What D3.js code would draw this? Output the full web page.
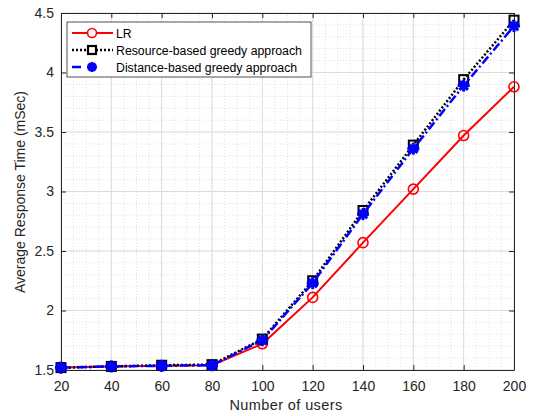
<!DOCTYPE html>
<html>
<head>
<meta charset="utf-8">
<script src="https://cdn.jsdelivr.net/npm/d3@7"></script>
<style>
  body { margin: 0; background: #fff; }
  svg { font-family: "Liberation Sans", Arial, sans-serif; }
</style>
</head>
<body>
<div id="chart"></div>
<script>
let users = [20, 40, 60, 80, 100, 120, 140, 160, 180, 200];
let lrValues = [1.52, 1.53, 1.535, 1.54, 1.72, 2.11, 2.57, 3.02, 3.47, 3.88];
let resourceValues = [1.52, 1.53, 1.54, 1.545, 1.76, 2.25, 2.84, 3.39, 3.94, 4.44];
let distanceValues = [1.52, 1.53, 1.535, 1.54, 1.75, 2.23, 2.81, 3.36, 3.89, 4.39];
let seriesNames = ["LR", "Resource-based greedy approach", "Distance-based greedy approach"];
let yTicks = [1.5, 2, 2.5, 3, 3.5, 4, 4.5];

let w = 533;
let h = 416;
let margin = {left: 61, right: 19, top: 13, bottom: 46};

let svg = d3.select("#chart")
    .append("svg")
    .attr("width", w)
    .attr("height", h);

let x = d3.scaleLinear().domain([20, 200]).range([margin.left, w - margin.right]);
let y = d3.scaleLinear().domain([1.5, 4.5]).range([h - margin.bottom, margin.top]);

// minor grid
let xMinor = d3.range(20, 200.1, 5);
let yMinor = d3.range(1.5, 4.51, 0.1);
svg.append("g").selectAll("line")
    .data(xMinor)
    .enter().append("line")
    .attr("x1", d => x(d)).attr("x2", d => x(d))
    .attr("y1", y(1.5)).attr("y2", y(4.5))
    .attr("stroke", "#d4d4d4").attr("stroke-width", 0.7)
    .attr("stroke-dasharray", "1,2");
svg.append("g").selectAll("line")
    .data(yMinor)
    .enter().append("line")
    .attr("x1", x(20)).attr("x2", x(200))
    .attr("y1", d => y(d)).attr("y2", d => y(d))
    .attr("stroke", "#d4d4d4").attr("stroke-width", 0.7)
    .attr("stroke-dasharray", "1,2");

// major grid
svg.append("g").selectAll("line")
    .data(users)
    .enter().append("line")
    .attr("x1", d => x(d)).attr("x2", d => x(d))
    .attr("y1", y(1.5)).attr("y2", y(4.5))
    .attr("stroke", "#dcdcdc").attr("stroke-width", 1);
svg.append("g").selectAll("line")
    .data(yTicks)
    .enter().append("line")
    .attr("x1", x(20)).attr("x2", x(200))
    .attr("y1", d => y(d)).attr("y2", d => y(d))
    .attr("stroke", "#dcdcdc").attr("stroke-width", 1);

// axes
let xAxis = d3.axisBottom(x).tickValues(users).tickSize(-5).tickPadding(11).tickSizeOuter(0);
let yAxis = d3.axisLeft(y).tickValues(yTicks).tickSize(-5).tickPadding(7).tickSizeOuter(0)
    .tickFormat(d3.format("~g"));
let xTop = d3.axisTop(x).tickValues(users).tickSize(-5).tickFormat("").tickSizeOuter(0);
let yRight = d3.axisRight(y).tickValues(yTicks).tickSize(-5).tickFormat("").tickSizeOuter(0);

function styleAxis(g) {
    g.selectAll("path").attr("stroke", "#262626");
    g.selectAll("line").attr("stroke", "#262626");
    g.selectAll("text").attr("fill", "#262626").attr("font-size", "14px")
        .attr("font-family", "Liberation Sans, Arial, sans-serif");
}

svg.append("g").attr("transform", "translate(0," + y(1.5) + ")").call(xAxis).call(styleAxis);
svg.append("g").attr("transform", "translate(" + x(20) + ",0)").call(yAxis).call(styleAxis);
svg.append("g").attr("transform", "translate(0," + y(4.5) + ")").call(xTop).call(styleAxis);
svg.append("g").attr("transform", "translate(" + x(200) + ",0)").call(yRight).call(styleAxis);

svg.append("text")
    .attr("x", 286)
    .attr("y", 410)
    .attr("text-anchor", "middle")
    .attr("font-size", "14.5px")
    .attr("fill", "#262626")
    .attr("letter-spacing", "0.4px")
    .text("Number of users");

svg.append("text")
    .attr("transform", "translate(25,192) rotate(-90)")
    .attr("text-anchor", "middle")
    .attr("font-size", "14px")
    .attr("fill", "#262626")
    .text("Average Response Time (mSec)");

let line = d3.line()
    .x(d => x(d[0]))
    .y(d => y(d[1]));

function pairs(values) {
    return users.map((u, i) => [u, values[i]]);
}

// LR
svg.append("path")
    .datum(pairs(lrValues))
    .attr("d", line)
    .attr("fill", "none")
    .attr("stroke", "#ff0000")
    .attr("stroke-width", 2);
svg.append("g").selectAll("circle")
    .data(pairs(lrValues))
    .enter().append("circle")
    .attr("cx", d => x(d[0])).attr("cy", d => y(d[1]))
    .attr("r", 5)
    .attr("fill", "none")
    .attr("stroke", "#ff0000")
    .attr("stroke-width", 1.6);

// Resource-based
svg.append("path")
    .datum(pairs(resourceValues))
    .attr("d", line)
    .attr("fill", "none")
    .attr("stroke", "#000")
    .attr("stroke-width", 2.5)
    .attr("stroke-dasharray", "2,2");
svg.append("g").selectAll("rect")
    .data(pairs(resourceValues))
    .enter().append("rect")
    .attr("x", d => x(d[0]) - 4.5).attr("y", d => y(d[1]) - 4.5)
    .attr("width", 9).attr("height", 9)
    .attr("fill", "none")
    .attr("stroke", "#000")
    .attr("stroke-width", 2);

// Distance-based
svg.append("path")
    .datum(pairs(distanceValues))
    .attr("d", line)
    .attr("fill", "none")
    .attr("stroke", "#0000ff")
    .attr("stroke-width", 2.5)
    .attr("stroke-dasharray", "9,3,2,3");

function asterisk(g, cx, cy, r) {
    for (let k = 0; k < 4; k++) {
        let a = k * Math.PI / 4;
        g.append("line")
            .attr("x1", cx - r * Math.cos(a)).attr("y1", cy - r * Math.sin(a))
            .attr("x2", cx + r * Math.cos(a)).attr("y2", cy + r * Math.sin(a))
            .attr("stroke", "#0000ff")
            .attr("stroke-width", 3);
    }
    g.append("circle").attr("cx", cx).attr("cy", cy).attr("r", 4).attr("fill", "#0000ff");
}
let distG = svg.append("g");
pairs(distanceValues).forEach(function (d) {
    asterisk(distG, x(d[0]), y(d[1]), 6);
});

// legend
let lx = 67, ly = 22;
let legend = svg.append("g");
legend.append("rect")
    .attr("x", lx).attr("y", ly)
    .attr("width", 244).attr("height", 55)
    .attr("fill", "#fff")
    .attr("stroke", "#262626")
    .attr("stroke-width", 0.8);

let rowY = [ly + 11, ly + 28, ly + 45];
let sx1 = lx + 5, sx2 = lx + 46, smid = lx + 25;

legend.append("line").attr("x1", sx1).attr("x2", sx2).attr("y1", rowY[0]).attr("y2", rowY[0])
    .attr("stroke", "#ff0000").attr("stroke-width", 2);
legend.append("circle").attr("cx", smid).attr("cy", rowY[0]).attr("r", 4.5)
    .attr("fill", "#fff").attr("stroke", "#ff0000").attr("stroke-width", 1.6);

legend.append("line").attr("x1", sx1).attr("x2", sx2).attr("y1", rowY[1]).attr("y2", rowY[1])
    .attr("stroke", "#000").attr("stroke-width", 2.5).attr("stroke-dasharray", "2,2");
legend.append("rect").attr("x", smid - 4).attr("y", rowY[1] - 4).attr("width", 8).attr("height", 8)
    .attr("fill", "#fff").attr("stroke", "#000").attr("stroke-width", 2.2);

legend.append("line").attr("x1", sx1).attr("x2", sx2).attr("y1", rowY[2]).attr("y2", rowY[2])
    .attr("stroke", "#0000ff").attr("stroke-width", 2.5).attr("stroke-dasharray", "9,6,2,30");
asterisk(legend, smid, rowY[2], 5);

legend.selectAll("text.lab")
    .data(seriesNames)
    .enter().append("text")
    .attr("class", "lab")
    .attr("x", lx + 49)
    .attr("y", (d, i) => rowY[i] + 4.5)
    .attr("font-size", "12.3px")
    .attr("fill", "#000")
    .text(d => d);
</script>
</body>
</html>
